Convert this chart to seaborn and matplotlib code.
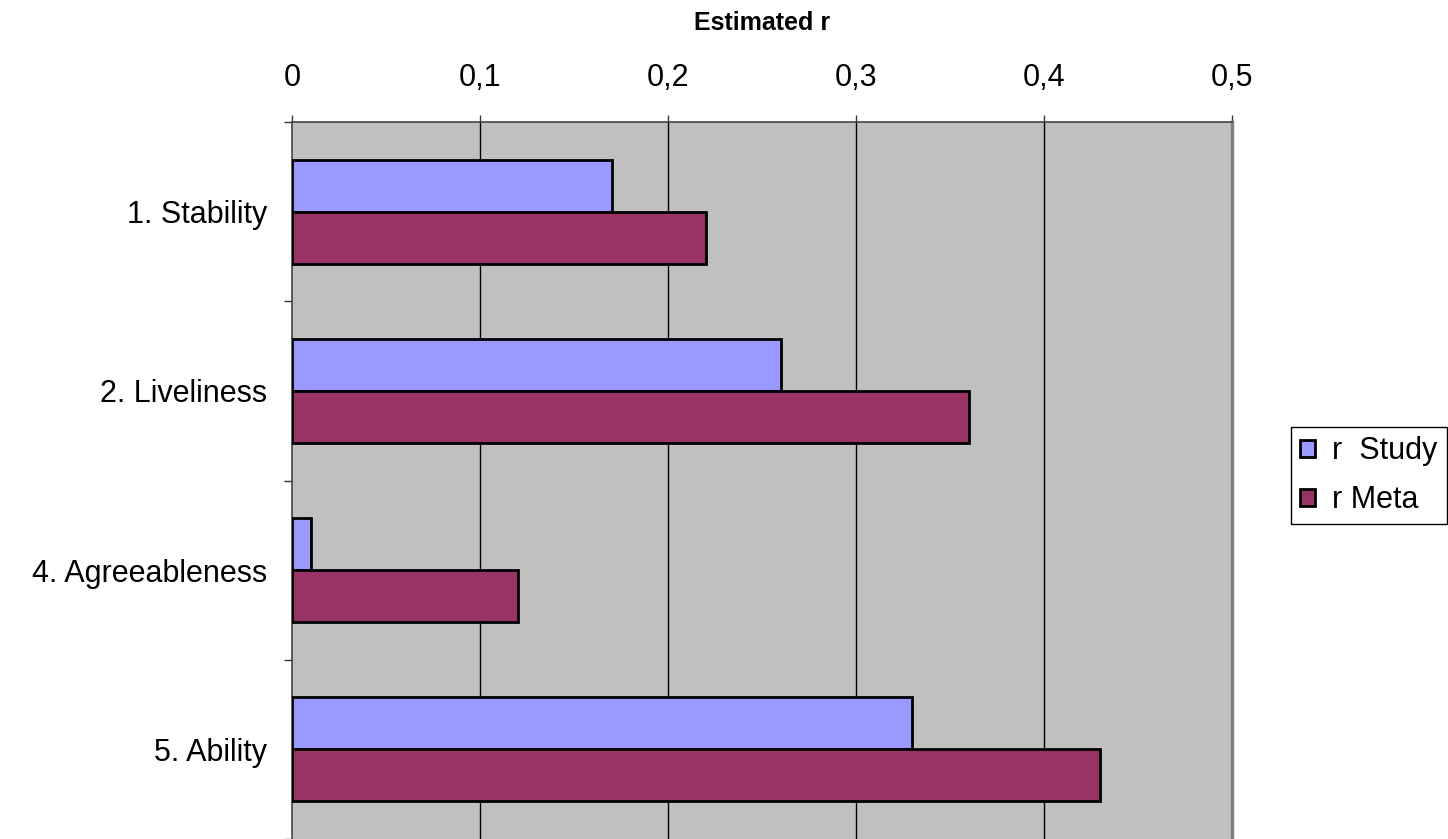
"""
plot.py

Horizontal grouped bar chart of estimated correlations (study vs meta-analysis).
"""

import matplotlib
matplotlib.use("Agg")
import matplotlib.pyplot as plt
from matplotlib.patches import Patch
from matplotlib.ticker import FixedLocator, FuncFormatter
import pandas as pd
import seaborn as sns

# Categories, top to bottom
CATEGORIES: list[str] = ["1. Stability", "2. Liveliness", "4. Agreeableness", "5. Ability"]
SERIES: list[str] = ["r  Study", "r Meta"]
R_STUDY: list[float] = [0.17, 0.26, 0.01, 0.33]
R_META: list[float] = [0.22, 0.36, 0.12, 0.43]
X_TICKS: list[float] = [0, 0.1, 0.2, 0.3, 0.4, 0.5]

COLORS: dict[str, str] = {"r  Study": "#9999FF", "r Meta": "#993366"}
PLOT_BG: str = "#C0C0C0"
FONT: list[str] = ["Liberation Sans", "DejaVu Sans"]


def build_frame() -> pd.DataFrame:
    rows = []
    for series, values in zip(SERIES, [R_STUDY, R_META]):
        for cat, val in zip(CATEGORIES, values):
            rows.append({"category": cat, "series": series, "r": val})
    return pd.DataFrame(rows)


def main() -> None:
    sns.set_style("white")
    plt.rcParams["font.family"] = FONT
    plt.rcParams["text.color"] = "black"
    plt.rcParams["xtick.color"] = "black"
    plt.rcParams["ytick.color"] = "black"
    plt.rcParams["axes.labelcolor"] = "black"

    df = build_frame()

    fig = plt.figure(figsize=(14.48, 8.39), dpi=100)
    ax = fig.add_axes([292 / 1448, 0.0, 940 / 1448, 1 - 122 / 839])
    ax.set_facecolor(PLOT_BG)

    sns.barplot(
        data=df, x="r", y="category", hue="series",
        order=CATEGORIES, hue_order=SERIES, palette=COLORS,
        orient="h", width=0.58, edgecolor="black", linewidth=2,
        saturation=1, errorbar=None, legend=False, ax=ax, zorder=3,
    )

    ax.set_xlim(0, 0.5)
    ax.set_ylim(3.5, -0.5)

    # x axis on top, comma decimals
    ax.xaxis.tick_top()
    ax.xaxis.set_label_position("top")
    ax.set_xticks(X_TICKS)
    ax.xaxis.set_major_formatter(
        FuncFormatter(lambda v, _: "0" if v == 0 else f"{v:.1f}".replace(".", ","))
    )
    ax.tick_params(axis="x", which="major", direction="out", length=5, width=1,
                   color="#333333", labelsize=22, pad=16)
    ax.set_xlabel("Estimated r", fontsize=18, fontweight="bold", labelpad=24)

    # vertical gridlines
    for v in X_TICKS[1:-1]:
        ax.axvline(v, color="black", lw=1, zorder=1)

    # y ticks at group boundaries, labels at group centers
    ax.yaxis.set_major_locator(FixedLocator([-0.5, 0.5, 1.5, 2.5, 3.5]))
    ax.yaxis.set_major_formatter(FuncFormatter(lambda v, _: ""))
    ax.yaxis.set_minor_locator(FixedLocator(range(len(CATEGORIES))))
    ax.set_yticklabels(CATEGORIES, minor=True)
    ax.tick_params(axis="y", which="major", direction="out", length=6, width=1,
                   color="#333333", left=True)
    ax.tick_params(axis="y", which="minor", length=0, labelsize=22, pad=18)
    ax.set_ylabel("")

    for side in ["top", "left"]:
        ax.spines[side].set_color("#444444")
        ax.spines[side].set_linewidth(1.2)
    ax.spines["right"].set_color("#808080")
    ax.spines["right"].set_linewidth(2.5)
    ax.spines["bottom"].set_visible(False)

    handles = [Patch(facecolor=COLORS[s], edgecolor="black", linewidth=2) for s in SERIES]
    leg = fig.legend(
        handles, SERIES, loc="upper left",
        bbox_to_anchor=(1291 / 1448, 1 - 427 / 839), borderaxespad=0,
        fontsize=22, frameon=True, fancybox=False, framealpha=1,
        handlelength=0.5, handleheight=0.5, handletextpad=0.55,
        labelspacing=0.62, borderpad=0.3,
    )
    leg.get_frame().set_edgecolor("black")
    leg.get_frame().set_linewidth(1)

    fig.savefig("out.png", dpi=100)
    plt.close(fig)


if __name__ == "__main__":
    main()
